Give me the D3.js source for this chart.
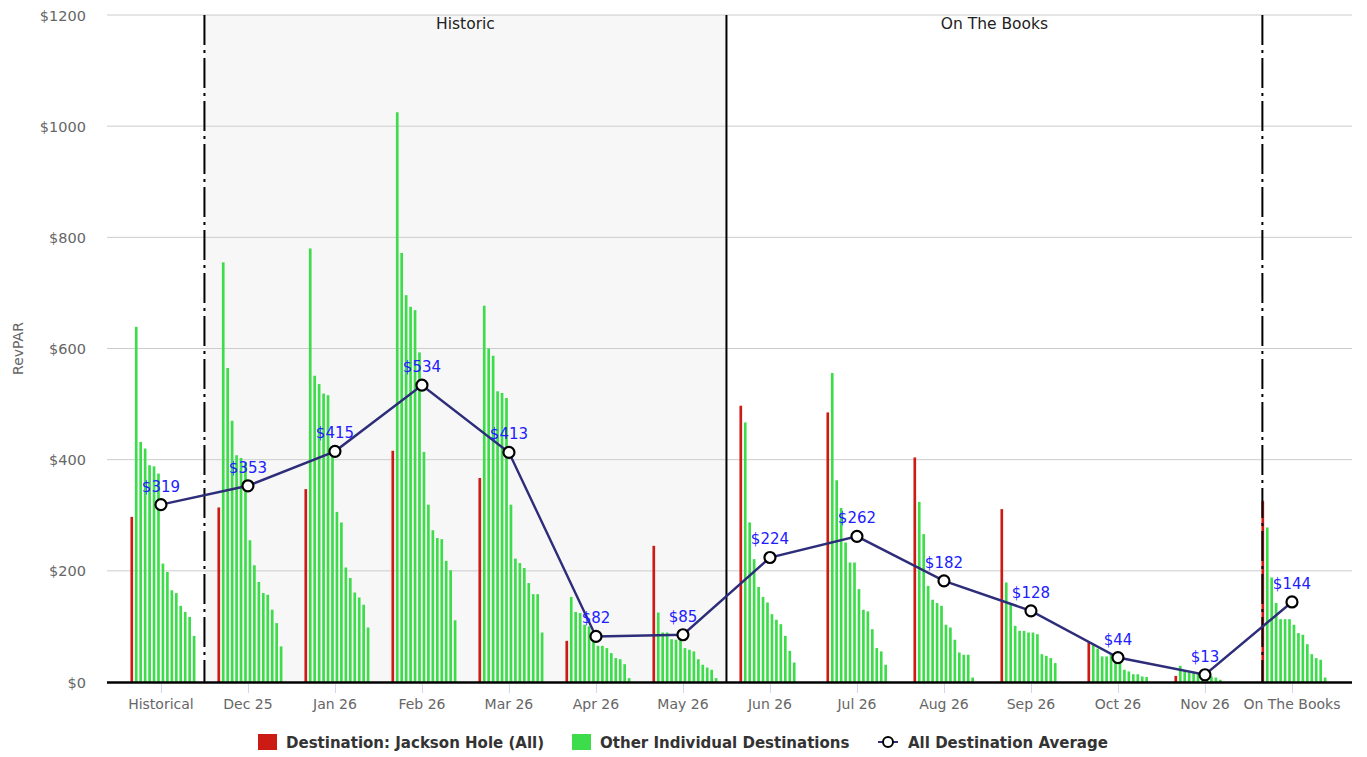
<!DOCTYPE html>
<html><head><meta charset="utf-8">
<script src="https://cdn.jsdelivr.net/npm/d3@7/dist/d3.min.js"></script>
<style>
html,body{margin:0;padding:0;background:#fff;}
svg{display:block;}
text{font-family:"DejaVu Sans","Liberation Sans",Arial,sans-serif;}
</style></head>
<body>
<script>
// ---------- DATA ----------
const categories = ["Historical","Dec 25","Jan 26","Feb 26","Mar 26","Apr 26","May 26","Jun 26","Jul 26","Aug 26","Sep 26","Oct 26","Nov 26","On The Books"];
const jacksonHole = [297, 314, 347, 416, 367, 74, 245, 497, 485, 404, 311, 71, 11, 326];
const destinationAverage = [319, 353, 415, 534, 413, 82, 85, 224, 262, 182, 128, 44, 13, 144];
// Other individual destinations, one list of 14 destinations per category
const otherHistorical = [639, 432, 420, 390, 388, 375, 213, 198, 165, 160, 137, 126, 117, 83];
const otherDec25 = [755, 565, 470, 408, 403, 395, 255, 210, 180, 160, 157, 130, 106, 64];
const otherJan26 = [780, 551, 536, 519, 516, 420, 306, 287, 206, 187, 161, 152, 139, 98];
const otherFeb26 = [1025, 772, 696, 675, 669, 593, 414, 319, 273, 259, 257, 218, 201, 111];
const otherMar26 = [677, 600, 587, 523, 520, 511, 319, 222, 214, 205, 178, 158, 158, 89];
const otherApr26 = [153, 126, 124, 103, 100, 88, 65, 65, 61, 52, 43, 41, 32, 7];
const otherMay26 = [125, 89, 89, 77, 76, 76, 61, 58, 55, 41, 31, 26, 22, 7];
const otherJun26 = [467, 287, 221, 171, 153, 143, 122, 112, 104, 83, 56, 35, 0, 0];
const otherJul26 = [556, 363, 313, 251, 215, 215, 167, 130, 127, 95, 61, 55, 31, 0];
const otherAug26 = [324, 266, 173, 148, 142, 137, 103, 98, 76, 53, 49, 49, 8, 0];
const otherSep26 = [179, 142, 101, 92, 92, 89, 89, 86, 50, 47, 43, 34, 0, 0];
const otherOct26 = [68, 60, 46, 46, 50, 40, 38, 22, 19, 14, 14, 10, 9, 0];
const otherNov26 = [29, 20, 17, 16, 15, 14, 11, 10, 8, 4, 0, 0, 0, 0];
const otherOnTheBooks = [278, 188, 142, 113, 113, 113, 103, 88, 85, 68, 50, 43, 40, 8];
const otherDestinations = [otherHistorical, otherDec25, otherJan26, otherFeb26, otherMar26, otherApr26, otherMay26,
  otherJun26, otherJul26, otherAug26, otherSep26, otherOct26, otherNov26, otherOnTheBooks];
const yTicks = [0, 200, 400, 600, 800, 1000, 1200];
const bandLabels = ["Historic", "On The Books"];
const bandEdges = [0.5, 6.5, 12.66];

// ---------- LAYOUT ----------
const W = 1367, H = 757;
const plotLeft = 107, plotRight = 1352, plotTop = 15, plotBottom = 682;
const RED = "#cc1a14", GREEN = "#3ddc4a", NAVY = "#2d2d7a";

const svg = d3.select("body").append("svg").attr("width", W).attr("height", H);

const x = d3.scaleLinear().domain([-0.62, 13.69]).range([plotLeft, plotRight]);
const y = d3.scaleLinear().domain([0, 1200]).range([plotBottom, plotTop]);
const slot = d3.scaleBand().domain(d3.range(15)).range([-30.5, 34.5]).paddingInner(0.4);

// plot band (Historic)
svg.append("rect").attr("x", x(bandEdges[0])).attr("y", plotTop)
  .attr("width", x(bandEdges[1]) - x(bandEdges[0])).attr("height", plotBottom - plotTop)
  .attr("fill", "#f7f7f7");

// gridlines
svg.append("g").selectAll("line").data(yTicks.filter(d => d > 0)).join("line")
  .attr("x1", plotLeft).attr("x2", plotRight).attr("y1", d => y(d)).attr("y2", d => y(d))
  .attr("stroke", "#cccccc").attr("stroke-width", 1);

// y axis labels
const yAxis = d3.axisLeft(y).tickValues(yTicks).tickSize(0).tickPadding(0).tickFormat(d => "$" + d);
const gy = svg.append("g").attr("transform", `translate(${plotLeft - 21},0)`).call(yAxis);
gy.select(".domain").remove();
gy.selectAll("text").attr("fill", "#666").style("font-family", "'DejaVu Sans',sans-serif")
  .style("font-size", "14.5px").attr("dy", "0.35em");

svg.append("text").attr("transform", `translate(23,${(plotTop + plotBottom) / 2}) rotate(-90)`)
  .attr("text-anchor", "middle").attr("fill", "#666").style("font-size", "14px").text("RevPAR");

// band labels
svg.append("g").selectAll("text").data(bandLabels).join("text")
  .attr("x", (d, i) => (x(bandEdges[i]) + x(bandEdges[i + 1])) / 2)
  .attr("y", 29).attr("text-anchor", "middle").attr("fill", "#222")
  .style("font-size", "15.5px").text(d => d);

// bars
const barData = [];
categories.forEach((c, i) => {
  barData.push({i, j: 0, v: jacksonHole[i], color: RED});
  otherDestinations[i].forEach((v, k) => barData.push({i, j: k + 1, v, color: GREEN}));
});
svg.append("g").selectAll("rect").data(barData.filter(d => d.v > 0)).join("rect")
  .attr("x", d => x(d.i) + slot(d.j))
  .attr("width", slot.bandwidth())
  .attr("y", d => y(d.v))
  .attr("height", d => y(0) - y(d.v))
  .attr("fill", d => d.color);

// plot lines
svg.append("g").selectAll("line").data(bandEdges).join("line")
  .attr("x1", d => x(d)).attr("x2", d => x(d)).attr("y1", plotTop).attr("y2", plotBottom)
  .attr("stroke", "#000").attr("stroke-width", 2)
  .attr("stroke-dasharray", (d, i) => i === 1 ? null : "30,5,3,5");

// x axis
svg.append("line").attr("x1", plotLeft).attr("x2", plotRight).attr("y1", plotBottom + 0.5).attr("y2", plotBottom + 0.5)
  .attr("stroke", "#000").attr("stroke-width", 2.5);
const gx = svg.append("g");
gx.selectAll("line").data(categories).join("line")
  .attr("x1", (d, i) => x(i) + 0.5).attr("x2", (d, i) => x(i) + 0.5)
  .attr("y1", plotBottom + 2).attr("y2", plotBottom + 11).attr("stroke", "#ccd6eb");
gx.selectAll("text").data(categories).join("text")
  .attr("x", (d, i) => x(i)).attr("y", 709).attr("text-anchor", "middle")
  .attr("fill", "#666").style("font-size", "14px").text(d => d);

// average line
const line = d3.line().x((d, i) => x(i)).y(d => y(d));
svg.append("path").datum(destinationAverage).attr("d", line)
  .attr("fill", "none").attr("stroke", NAVY).attr("stroke-width", 2.4);
svg.append("g").selectAll("circle").data(destinationAverage).join("circle")
  .attr("cx", (d, i) => x(i)).attr("cy", d => y(d)).attr("r", 5.5)
  .attr("fill", "#fff").attr("stroke", "#000").attr("stroke-width", 2.2);
svg.append("g").selectAll("text").data(destinationAverage).join("text")
  .attr("x", (d, i) => x(i)).attr("y", d => y(d) - 13).attr("text-anchor", "middle")
  .attr("fill", "#2020ff").style("font-size", "15px")
  .text(d => "$" + d);

// legend
const legend = [
  {label: "Destination: Jackson Hole (All)", type: "rect", color: RED, x: 258},
  {label: "Other Individual Destinations", type: "rect", color: GREEN, x: 572},
  {label: "All Destination Average", type: "line", color: NAVY, x: 878}
];
const lg = svg.append("g").selectAll("g").data(legend).join("g")
  .attr("transform", d => `translate(${d.x},742)`);
lg.filter(d => d.type === "rect").append("rect")
  .attr("x", 0).attr("y", -8).attr("width", 19).attr("height", 16).attr("fill", d => d.color);
const ll = lg.filter(d => d.type === "line");
ll.append("line").attr("x1", 0).attr("x2", 20).attr("y1", 0).attr("y2", 0)
  .attr("stroke", d => d.color).attr("stroke-width", 2);
ll.append("circle").attr("cx", 10).attr("cy", 0).attr("r", 5)
  .attr("fill", "#fff").attr("stroke", "#000").attr("stroke-width", 2);
lg.append("text").attr("x", d => d.type === "line" ? 30 : 28).attr("y", 6)
  .attr("fill", "#333").style("font-family", "'DejaVu Sans Condensed','DejaVu Sans',sans-serif")
  .style("font-stretch", "condensed")
  .style("font-size", "16.7px").style("font-weight", "bold")
  .text(d => d.label);
</script>
</body></html>
